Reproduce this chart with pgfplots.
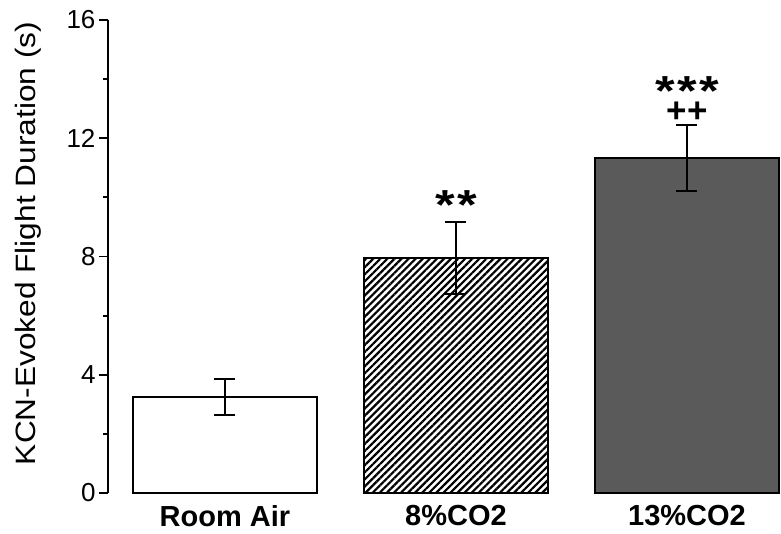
\documentclass[border=0pt]{standalone}
\usepackage{fontspec}
\setmainfont{Liberation Sans}
\newfontfamily\labelfont{Liberation Sans}[FakeStretch=1.13]
\usepackage{graphicx}
\usepackage{pgfplots}
\pgfplotsset{compat=1.18}
\usetikzlibrary{patterns.meta}
\definecolor{darkbar}{RGB}{90,90,90}

\begin{document}
\begin{tikzpicture}
\useasboundingbox (-108pt,-40pt) rectangle (673pt,493pt);
\begin{axis}[
  at={(0,0)}, anchor=south west,
  scale only axis, width=673pt, height=473pt,
  xmin=-0.506, xmax=2.407, ymin=0, ymax=16,
  axis y line=left, axis x line=bottom,
  x axis line style={draw=none},
  y axis line style={-, line width=1.8pt},
  ytick={0,4,8,12,16}, minor ytick={2,6,10,14},
  tick align=outside, major tick length=9pt, minor tick length=5pt,
  y tick style={black, line width=1.8pt},
  x tick style={draw=none},
  xtick={0,1,2}, xticklabels={Room Air, 8\%CO2, 13\%CO2},
  xticklabel style={font=\bfseries\fontsize{29}{29}\selectfont},
  yticklabel style={font=\fontsize{26}{26}\selectfont},
  /pgf/number format/assume math mode=true,
  ylabel={KCN-Evoked Flight Duration (s)},
  ylabel style={font=\labelfont\fontsize{28}{28}\selectfont,
    at={(axis description cs:-0.119,0.5275)}, anchor=center},
  ybar, bar width=0.795, bar shift=0pt,
  clip=false,
  error bars/y dir=both, error bars/y explicit,
  error bars/error bar style={line width=1.8pt, black},
  error bars/error mark options={rotate=90, line width=1.8pt, mark size=10.5pt, black},
]
% Room air
\addplot[fill=white, draw=black, line width=2pt]
  coordinates {(0,3.25) +- (0,0.60)};
% 8% CO2
\addplot[draw=black, line width=2pt,
  pattern={Lines[angle=45, distance=5pt, line width=2.2pt]}]
  coordinates {(1,7.95) +- (0,1.22)};
% 13% CO2
\addplot[fill=darkbar, draw=black, line width=2pt]
  coordinates {(2,11.33) +- (0,1.12)};

% significance markers
\node[font=\bfseries\fontsize{42}{42}\selectfont, anchor=base, inner sep=0]
  at (axis cs:1,9.24) {\scalebox{1.2}[1]{*\hspace{2pt}*}};
\node[font=\bfseries\fontsize{42}{42}\selectfont, anchor=base, inner sep=0]
  at (axis cs:2,13.10) {\scalebox{1.2}[1]{*\hspace{2pt}*\hspace{2pt}*}};
\node[font=\bfseries\fontsize{35}{35}\selectfont, anchor=base, inner sep=0]
  at (axis cs:2,12.54) {+\hspace{1pt}+};
\end{axis}
\end{tikzpicture}
\end{document}
